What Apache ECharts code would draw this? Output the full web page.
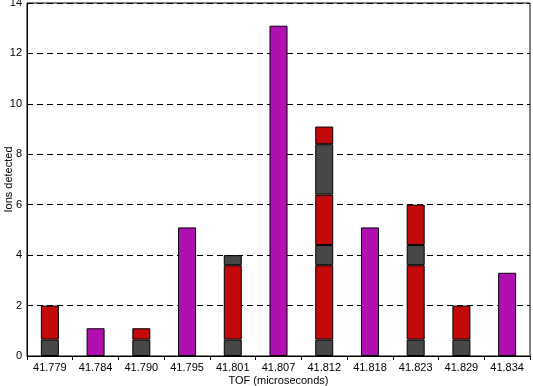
<!DOCTYPE html>
<html>
<head>
<meta charset="utf-8">
<script src="https://cdn.jsdelivr.net/npm/echarts@6/dist/echarts.min.js"></script>
<style>
html,body{margin:0;padding:0;background:#fff;}
#c{width:533px;height:386px;}
</style>
</head>
<body>
<div id="c"></div>
<script>
const categories = ['41.779','41.784','41.790','41.795','41.801','41.807','41.812','41.818','41.823','41.829','41.834'];
const yTicks = [0, 2, 4, 6, 8, 10, 12, 14];
// stacked segments, bottom to top
const seg1Gray = [0.65, null, 0.65, null, 0.65, null, 0.65, null, 0.65, 0.65, null];
const seg2Red  = [1.35, null, 0.45, null, 2.95, null, 2.95, null, 2.95, 1.35, null];
const seg3Gray = [null, null, null, null, 0.4, null, 0.8, null, 0.8, null, null];
const seg4Red  = [null, null, null, null, null, null, 2.0, null, 1.6, null, null];
const seg5Gray = [null, null, null, null, null, null, 2.0, null, null, null, null];
const seg6Red  = [null, null, null, null, null, null, 0.7, null, null, null, null];
const magenta  = [null, 1.1, null, 5.1, null, 13.1, null, 5.1, null, null, 3.3];

const GRAY = '#474747', RED = '#c20a0a', MAG = '#b010b0';
const font = 'Liberation Sans, Arial, sans-serif';

function bar(name, data, color) {
  return {
    name, type: 'bar', stack: 'tot', data, barWidth: 18,
    itemStyle: { color, borderColor: '#000', borderWidth: 1 },
    emphasis: { disabled: true }
  };
}

const chart = echarts.init(document.getElementById('c'));
chart.setOption({
  animation: false,
  backgroundColor: '#fff',
  grid: { left: 27, right: 3, top: 3, bottom: 30, outerBoundsMode: 'none', containLabel: false, show: true, borderColor: '#000', borderWidth: 1, backgroundColor: 'transparent' },
  xAxis: {
    type: 'category', data: categories,
    name: 'TOF (microseconds)', nameLocation: 'middle', nameGap: 19, nameMoveOverlap: false,
    nameTextStyle: { fontFamily: font, fontSize: 11, color: '#000' },
    axisLine: { lineStyle: { color: '#000', width: 1 } },
    axisTick: { show: true, length: 4, lineStyle: { color: '#000' }, alignWithLabel: false },
    axisLabel: { fontFamily: font, fontSize: 11, color: '#000', margin: 6, interval: 0 },
    splitLine: { show: false }
  },
  yAxis: {
    type: 'value', min: yTicks[0], max: yTicks[yTicks.length - 1], interval: 2,
    name: 'Ions detected', nameLocation: 'middle', nameGap: 13, nameRotate: 90, nameMoveOverlap: false,
    nameTextStyle: { fontFamily: font, fontSize: 11, color: '#000' },
    axisLine: { show: true, lineStyle: { color: '#000', width: 1 } },
    axisTick: { show: false },
    axisLabel: { fontFamily: font, fontSize: 11, color: '#000', margin: 5 },
    splitLine: { show: true, lineStyle: { color: '#000', type: [6, 4], width: 1 } }
  },
  series: [
    bar('s1', seg1Gray, GRAY),
    bar('s2', seg2Red, RED),
    bar('s3', seg3Gray, GRAY),
    bar('s4', seg4Red, RED),
    bar('s5', seg5Gray, GRAY),
    bar('s6', seg6Red, RED),
    bar('m', magenta, MAG)
  ]
});
</script>
</body>
</html>
